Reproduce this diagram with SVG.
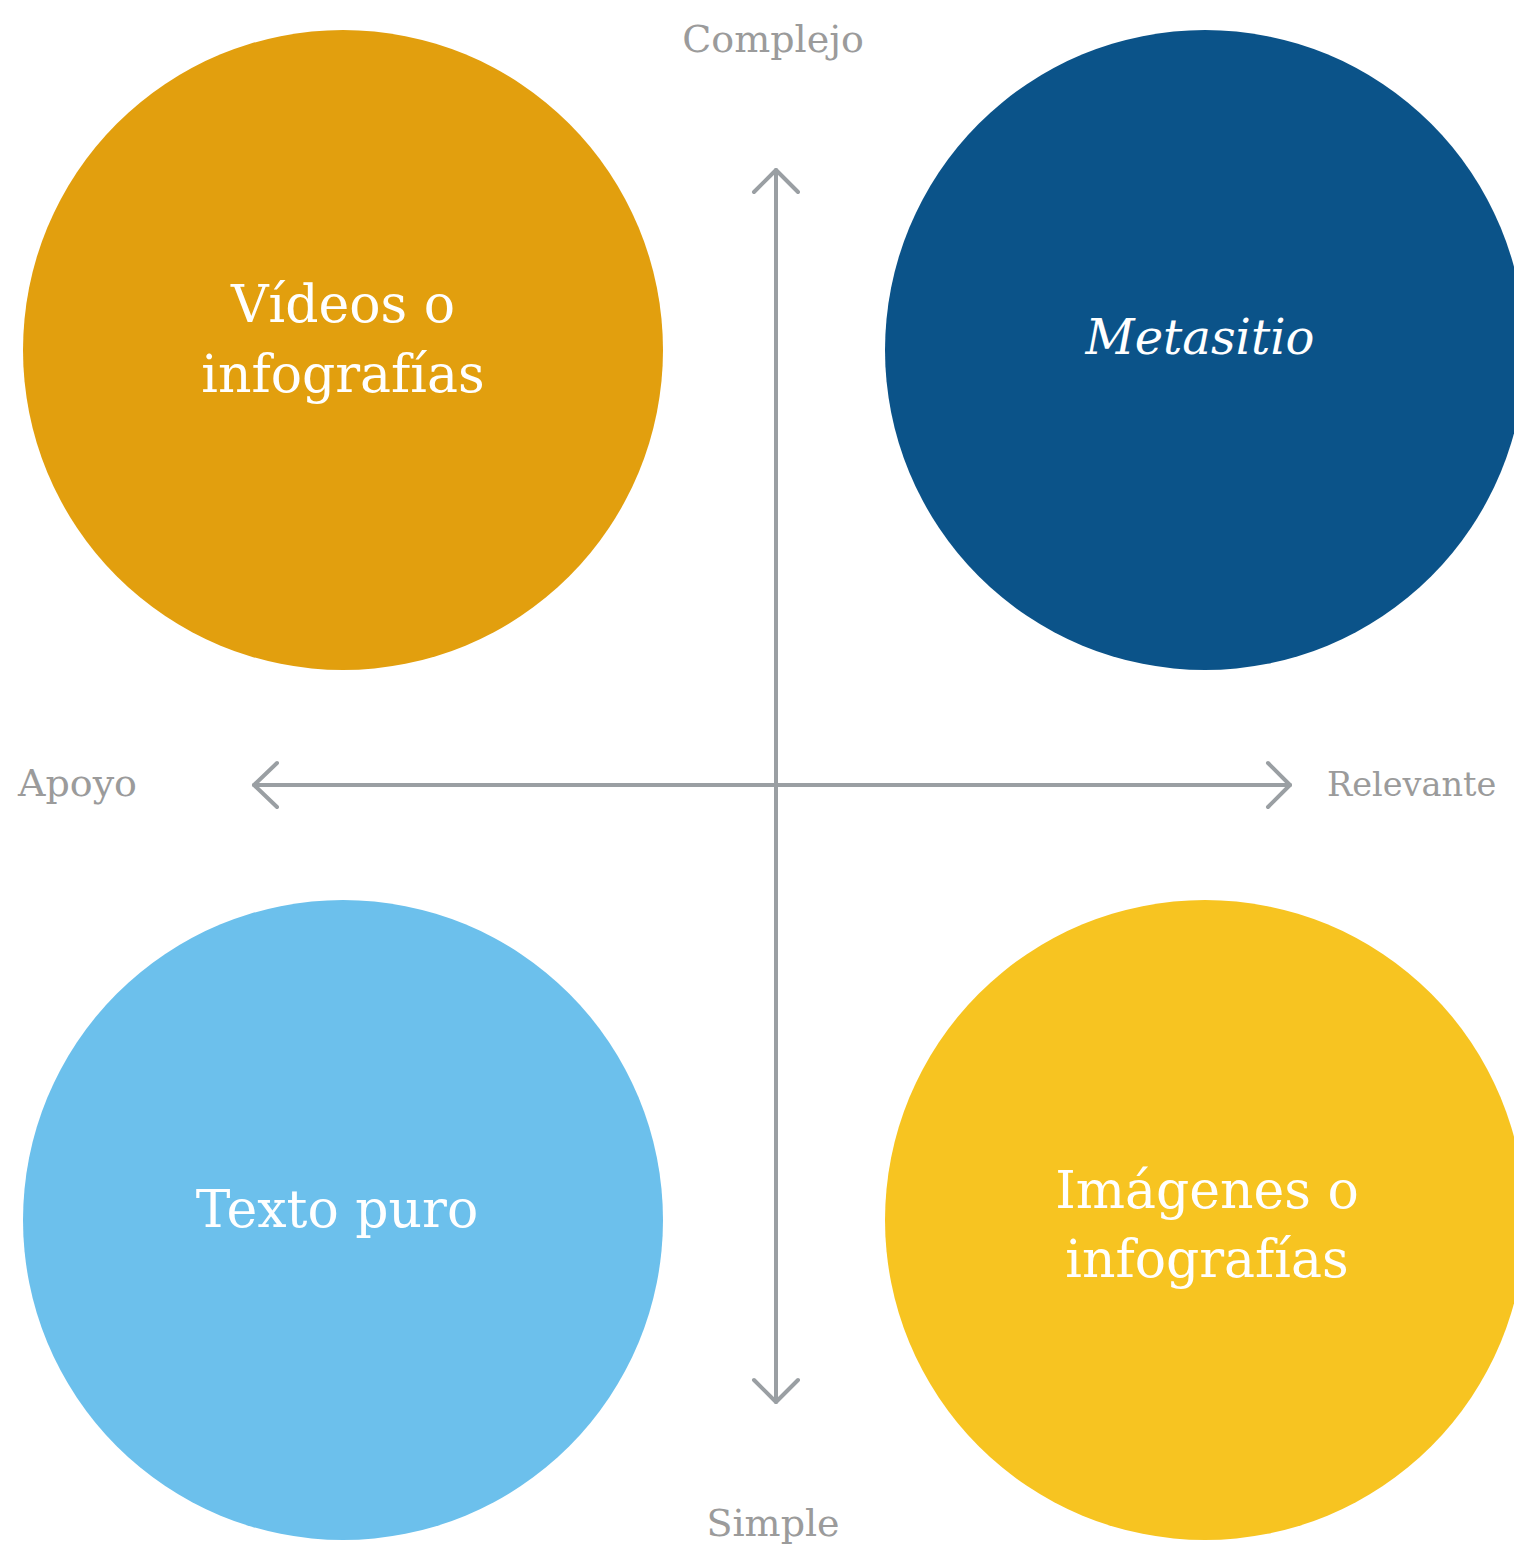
<svg xmlns="http://www.w3.org/2000/svg" width="1514" height="1550" viewBox="0 0 1514 1550">
<style>
.lbl{font-family:"DejaVu Serif","Liberation Serif",serif;fill:#ffffff;font-size:52px;text-anchor:middle}
.ax{font-family:"DejaVu Serif","Liberation Serif",serif;fill:#9b9b9b;font-size:38px}
.axis{stroke:#9a9fa3;stroke-width:4;fill:none;stroke-linecap:round;stroke-linejoin:round}
</style>
<rect width="1514" height="1550" fill="#ffffff"/>
<g id="connectors">
<path class="axis" d="M776 170 V1402"/>
<path class="axis" d="M254 785 H1290"/>
<path class="axis" d="M754 192 L776 170 L798 192"/>
<path class="axis" d="M754 1380 L776 1402 L798 1380"/>
<path class="axis" d="M277 763 L254 785 L277 807"/>
<path class="axis" d="M1268 763 L1290 785 L1268 807"/>
</g>
<g id="axis-labels">
<text class="ax" x="773" y="52" text-anchor="middle">Complejo</text>
<text class="ax" x="773" y="1536" text-anchor="middle">Simple</text>
<text class="ax" x="18" y="796">Apoyo</text>
<text class="ax" x="1327" y="796" style="font-size:33.5px">Relevante</text>
</g>
<g id="videos">
<circle cx="343" cy="350" r="320" fill="#e29f0e"/>
<text class="lbl" x="343" y="322">Vídeos o</text>
<text class="lbl" x="343" y="392">infografías</text>
</g>
<g id="metasitio">
<circle cx="1205" cy="350" r="320" fill="#0b5389"/>
<text class="lbl" x="1200" y="354" style="font-style:italic;font-size:48px">Metasitio</text>
</g>
<g id="texto">
<circle cx="343" cy="1220" r="320" fill="#6cc0ec"/>
<text class="lbl" x="337" y="1227">Texto puro</text>
</g>
<g id="imagenes">
<circle cx="1205" cy="1220" r="320" fill="#f7c421"/>
<text class="lbl" x="1207" y="1208">Imágenes o</text>
<text class="lbl" x="1207" y="1277">infografías</text>
</g>
</svg>
